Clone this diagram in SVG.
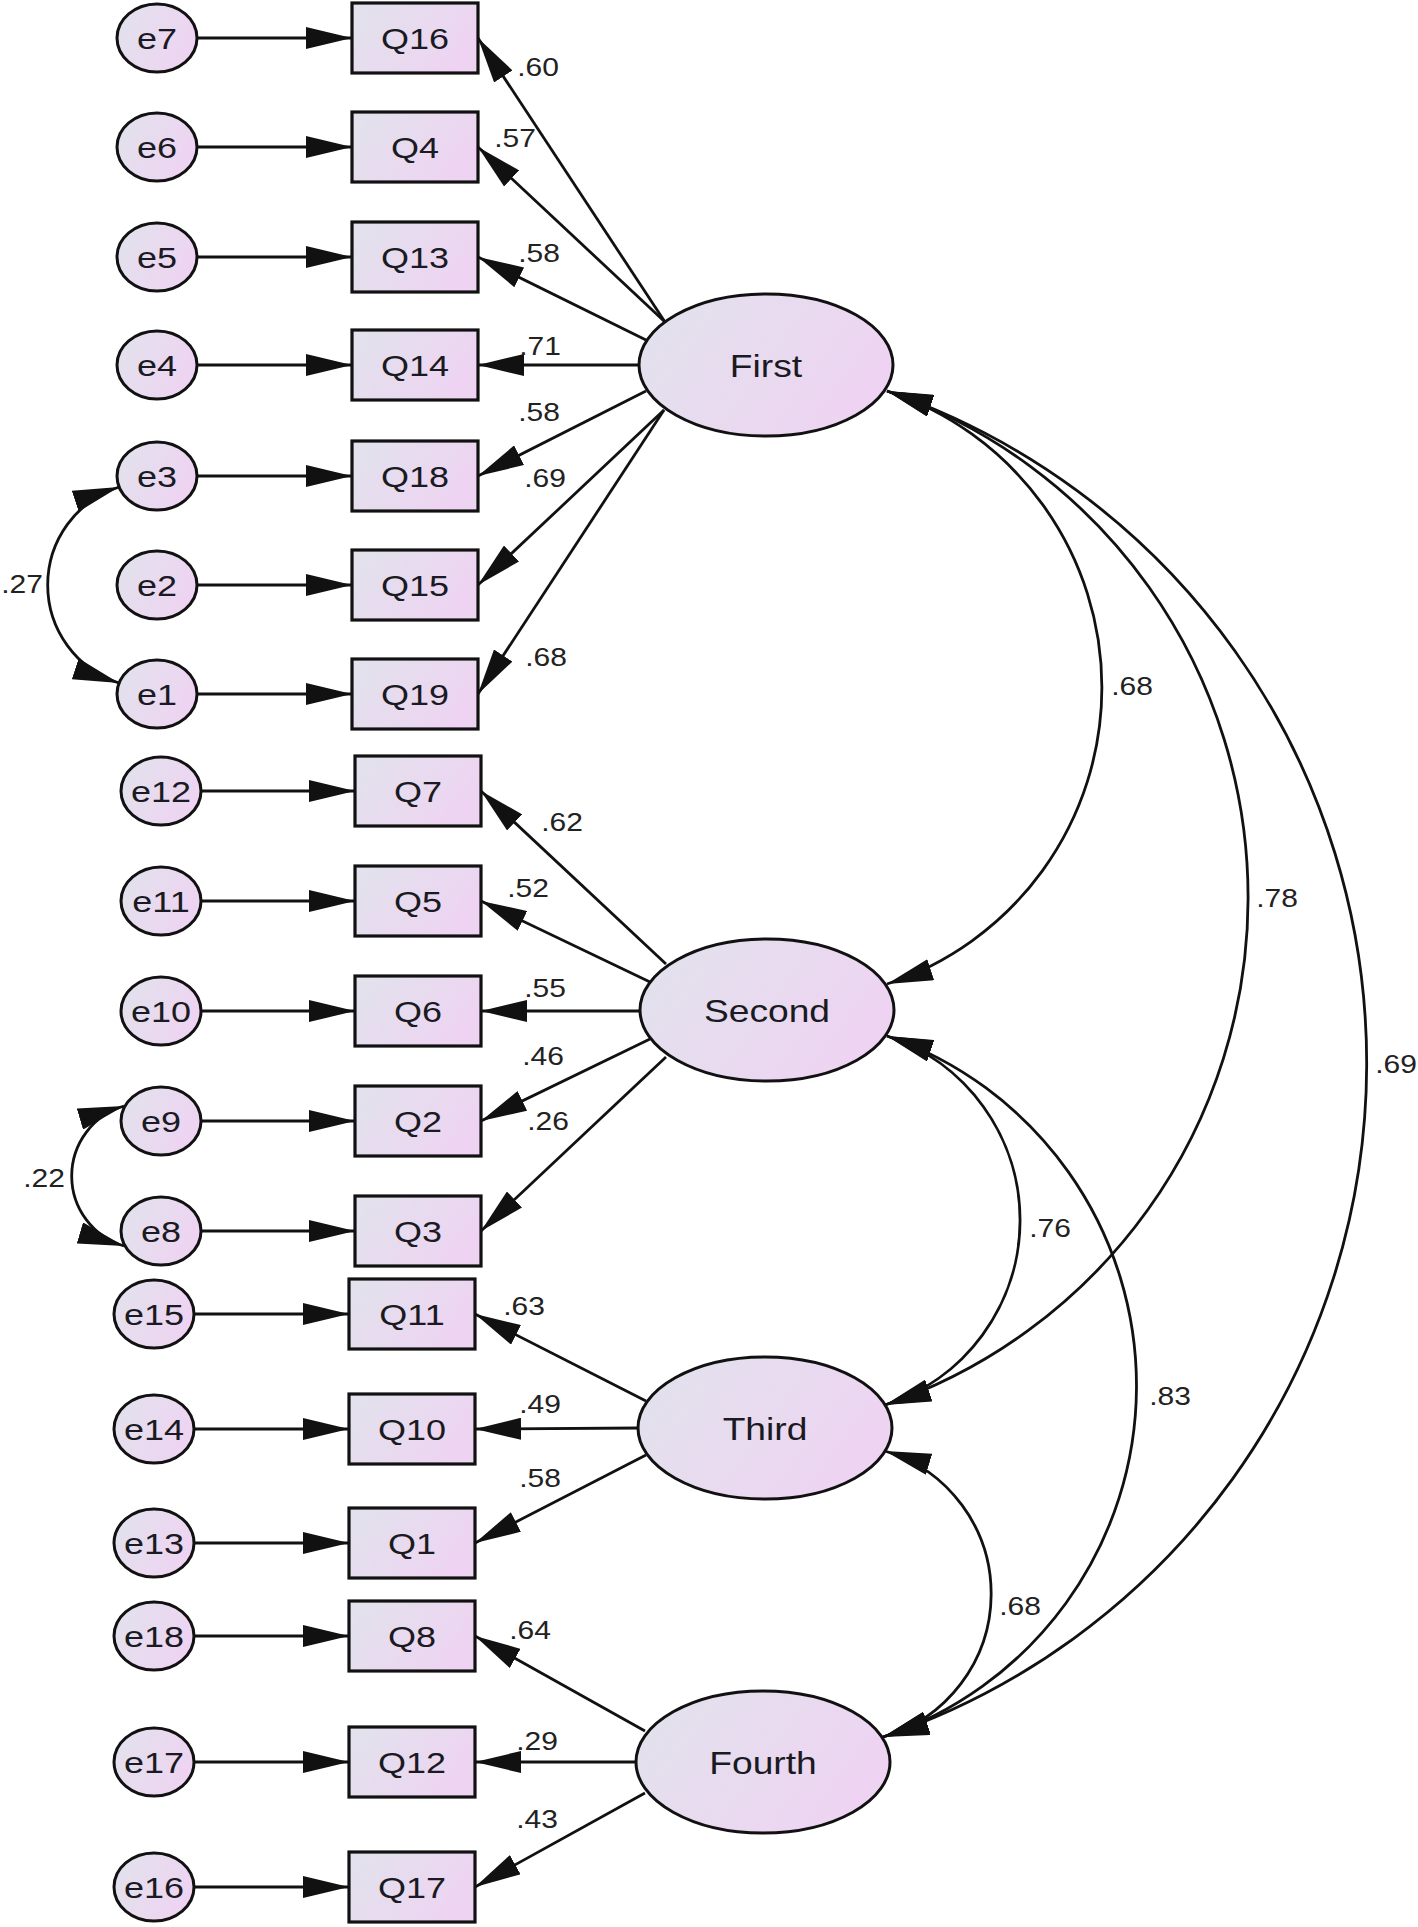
<svg xmlns="http://www.w3.org/2000/svg" width="1418" height="1927" viewBox="0 0 1418 1927">
<defs>
<linearGradient id="fillg" x1="0" y1="0" x2="1" y2="0.4">
<stop offset="0" stop-color="#e1e3ec"/>
<stop offset="1" stop-color="#eed4f2"/>
</linearGradient>
<marker id="ah" markerUnits="userSpaceOnUse" markerWidth="46" markerHeight="22" viewBox="0 0 46 22" refX="46" refY="11" orient="auto-start-reverse">
<path d="M0,0 L46,11 L0,22 z" fill="#111"/>
</marker>
<style>
.c{fill:none;stroke:#111;stroke-width:2.8;marker-end:url(#ah)}
.cv{fill:none;stroke:#111;stroke-width:2.8;marker-start:url(#ah);marker-end:url(#ah)}
.err{fill:url(#fillg);stroke:#111;stroke-width:3}
.box{fill:url(#fillg);stroke:#111;stroke-width:3.2}
.lat{fill:url(#fillg);stroke:#111;stroke-width:3}
text{font-family:"Liberation Sans",Arial,sans-serif;text-anchor:middle;transform-box:fill-box;transform-origin:center;transform:scaleX(1.2)}
.nt{font-size:30px;fill:#1a1a22}
.lt{font-size:31px;fill:#1a1a22}
.co{font-size:25px;fill:#222}
</style>
</defs>
<rect width="1418" height="1927" fill="#fff"/>
<g id="connectors">
<path class="c" d="M197 38H352"/>
<path class="c" d="M197 147H352"/>
<path class="c" d="M197 257H352"/>
<path class="c" d="M197 365H352"/>
<path class="c" d="M197 476H352"/>
<path class="c" d="M197 585H352"/>
<path class="c" d="M197 694H352"/>
<path class="c" d="M201 791H355"/>
<path class="c" d="M201 901H355"/>
<path class="c" d="M201 1011H355"/>
<path class="c" d="M201 1121H355"/>
<path class="c" d="M201 1231H355"/>
<path class="c" d="M194 1314H349"/>
<path class="c" d="M194 1429H349"/>
<path class="c" d="M194 1543H349"/>
<path class="c" d="M194 1636H349"/>
<path class="c" d="M194 1762H349"/>
<path class="c" d="M194 1887H349"/>
<path class="c" d="M665 322L478 38"/>
<path class="c" d="M665 322L478 147"/>
<path class="c" d="M646 340L478 257"/>
<path class="c" d="M641 365L478 365"/>
<path class="c" d="M646 391L478 476"/>
<path class="c" d="M664 410L478 585"/>
<path class="c" d="M664 410L478 694"/>
<path class="c" d="M666 964L481 791"/>
<path class="c" d="M650 982L481 901"/>
<path class="c" d="M642 1011L481 1011"/>
<path class="c" d="M650 1039L481 1121"/>
<path class="c" d="M666 1057L481 1231"/>
<path class="c" d="M646 1401L475 1314"/>
<path class="c" d="M640 1428L475 1429"/>
<path class="c" d="M646 1455L475 1543"/>
<path class="c" d="M645 1731L475 1636"/>
<path class="c" d="M638 1762L475 1762"/>
<path class="c" d="M645 1793L475 1887"/>
<path class="cv" d="M887 391A312 312 0 0 1 887 984"/>
<path class="cv" d="M887 391A536 536 0 0 1 885 1405"/>
<path class="cv" d="M887 391A711 711 0 0 1 883 1737"/>
<path class="cv" d="M887 1036A194 194 0 0 1 885 1405"/>
<path class="cv" d="M887 1036A370 370 0 0 1 883 1737"/>
<path class="cv" d="M885 1451A149 149 0 0 1 883 1737"/>
<path class="cv" d="M119 487A103 103 0 0 0 119 683"/>
<path class="cv" d="M124 1106A73 73 0 0 0 124 1246"/>
</g>
<g id="labels">
<text class="co" x="538" y="76">.60</text>
<text class="co" x="515" y="147">.57</text>
<text class="co" x="539" y="262">.58</text>
<text class="co" x="540" y="355">.71</text>
<text class="co" x="539" y="421">.58</text>
<text class="co" x="545" y="487">.69</text>
<text class="co" x="546" y="666">.68</text>
<text class="co" x="562" y="831">.62</text>
<text class="co" x="528" y="897">.52</text>
<text class="co" x="545" y="997">.55</text>
<text class="co" x="543" y="1065">.46</text>
<text class="co" x="548" y="1130">.26</text>
<text class="co" x="524" y="1315">.63</text>
<text class="co" x="540" y="1413">.49</text>
<text class="co" x="540" y="1487">.58</text>
<text class="co" x="530" y="1639">.64</text>
<text class="co" x="537" y="1750">.29</text>
<text class="co" x="537" y="1828">.43</text>
<text class="co" x="1132" y="695">.68</text>
<text class="co" x="1277" y="907">.78</text>
<text class="co" x="1396" y="1073">.69</text>
<text class="co" x="1050" y="1237">.76</text>
<text class="co" x="1170" y="1405">.83</text>
<text class="co" x="1020" y="1615">.68</text>
<text class="co" x="22" y="593">.27</text>
<text class="co" x="44" y="1187">.22</text>
</g>
<g id="e7"><ellipse class="err" cx="157" cy="38" rx="40" ry="34"/><text class="nt" x="157" y="49">e7</text></g>
<g id="e6"><ellipse class="err" cx="157" cy="147" rx="40" ry="34"/><text class="nt" x="157" y="158">e6</text></g>
<g id="e5"><ellipse class="err" cx="157" cy="257" rx="40" ry="34"/><text class="nt" x="157" y="268">e5</text></g>
<g id="e4"><ellipse class="err" cx="157" cy="365" rx="40" ry="34"/><text class="nt" x="157" y="376">e4</text></g>
<g id="e3"><ellipse class="err" cx="157" cy="476" rx="40" ry="34"/><text class="nt" x="157" y="487">e3</text></g>
<g id="e2"><ellipse class="err" cx="157" cy="585" rx="40" ry="34"/><text class="nt" x="157" y="596">e2</text></g>
<g id="e1"><ellipse class="err" cx="157" cy="694" rx="40" ry="34"/><text class="nt" x="157" y="705">e1</text></g>
<g id="e12"><ellipse class="err" cx="161" cy="791" rx="40" ry="34"/><text class="nt" x="161" y="802">e12</text></g>
<g id="e11"><ellipse class="err" cx="161" cy="901" rx="40" ry="34"/><text class="nt" x="161" y="912">e11</text></g>
<g id="e10"><ellipse class="err" cx="161" cy="1011" rx="40" ry="34"/><text class="nt" x="161" y="1022">e10</text></g>
<g id="e9"><ellipse class="err" cx="161" cy="1121" rx="40" ry="34"/><text class="nt" x="161" y="1132">e9</text></g>
<g id="e8"><ellipse class="err" cx="161" cy="1231" rx="40" ry="34"/><text class="nt" x="161" y="1242">e8</text></g>
<g id="e15"><ellipse class="err" cx="154" cy="1314" rx="40" ry="34"/><text class="nt" x="154" y="1325">e15</text></g>
<g id="e14"><ellipse class="err" cx="154" cy="1429" rx="40" ry="34"/><text class="nt" x="154" y="1440">e14</text></g>
<g id="e13"><ellipse class="err" cx="154" cy="1543" rx="40" ry="34"/><text class="nt" x="154" y="1554">e13</text></g>
<g id="e18"><ellipse class="err" cx="154" cy="1636" rx="40" ry="34"/><text class="nt" x="154" y="1647">e18</text></g>
<g id="e17"><ellipse class="err" cx="154" cy="1762" rx="40" ry="34"/><text class="nt" x="154" y="1773">e17</text></g>
<g id="e16"><ellipse class="err" cx="154" cy="1887" rx="40" ry="34"/><text class="nt" x="154" y="1898">e16</text></g>
<g id="Q16"><rect class="box" x="352" y="3" width="126" height="70"/><text class="nt" x="415" y="49">Q16</text></g>
<g id="Q4"><rect class="box" x="352" y="112" width="126" height="70"/><text class="nt" x="415" y="158">Q4</text></g>
<g id="Q13"><rect class="box" x="352" y="222" width="126" height="70"/><text class="nt" x="415" y="268">Q13</text></g>
<g id="Q14"><rect class="box" x="352" y="330" width="126" height="70"/><text class="nt" x="415" y="376">Q14</text></g>
<g id="Q18"><rect class="box" x="352" y="441" width="126" height="70"/><text class="nt" x="415" y="487">Q18</text></g>
<g id="Q15"><rect class="box" x="352" y="550" width="126" height="70"/><text class="nt" x="415" y="596">Q15</text></g>
<g id="Q19"><rect class="box" x="352" y="659" width="126" height="70"/><text class="nt" x="415" y="705">Q19</text></g>
<g id="Q7"><rect class="box" x="355" y="756" width="126" height="70"/><text class="nt" x="418" y="802">Q7</text></g>
<g id="Q5"><rect class="box" x="355" y="866" width="126" height="70"/><text class="nt" x="418" y="912">Q5</text></g>
<g id="Q6"><rect class="box" x="355" y="976" width="126" height="70"/><text class="nt" x="418" y="1022">Q6</text></g>
<g id="Q2"><rect class="box" x="355" y="1086" width="126" height="70"/><text class="nt" x="418" y="1132">Q2</text></g>
<g id="Q3"><rect class="box" x="355" y="1196" width="126" height="70"/><text class="nt" x="418" y="1242">Q3</text></g>
<g id="Q11"><rect class="box" x="349" y="1279" width="126" height="70"/><text class="nt" x="412" y="1325">Q11</text></g>
<g id="Q10"><rect class="box" x="349" y="1394" width="126" height="70"/><text class="nt" x="412" y="1440">Q10</text></g>
<g id="Q1"><rect class="box" x="349" y="1508" width="126" height="70"/><text class="nt" x="412" y="1554">Q1</text></g>
<g id="Q8"><rect class="box" x="349" y="1601" width="126" height="70"/><text class="nt" x="412" y="1647">Q8</text></g>
<g id="Q12"><rect class="box" x="349" y="1727" width="126" height="70"/><text class="nt" x="412" y="1773">Q12</text></g>
<g id="Q17"><rect class="box" x="349" y="1852" width="126" height="70"/><text class="nt" x="412" y="1898">Q17</text></g>
<g id="First"><ellipse class="lat" cx="766" cy="365" rx="127" ry="71"/><text class="lt" x="766" y="377">First</text></g>
<g id="Second"><ellipse class="lat" cx="767" cy="1010" rx="127" ry="71"/><text class="lt" x="767" y="1022">Second</text></g>
<g id="Third"><ellipse class="lat" cx="765" cy="1428" rx="127" ry="71"/><text class="lt" x="765" y="1440">Third</text></g>
<g id="Fourth"><ellipse class="lat" cx="763" cy="1762" rx="127" ry="71"/><text class="lt" x="763" y="1774">Fourth</text></g>
</svg>
